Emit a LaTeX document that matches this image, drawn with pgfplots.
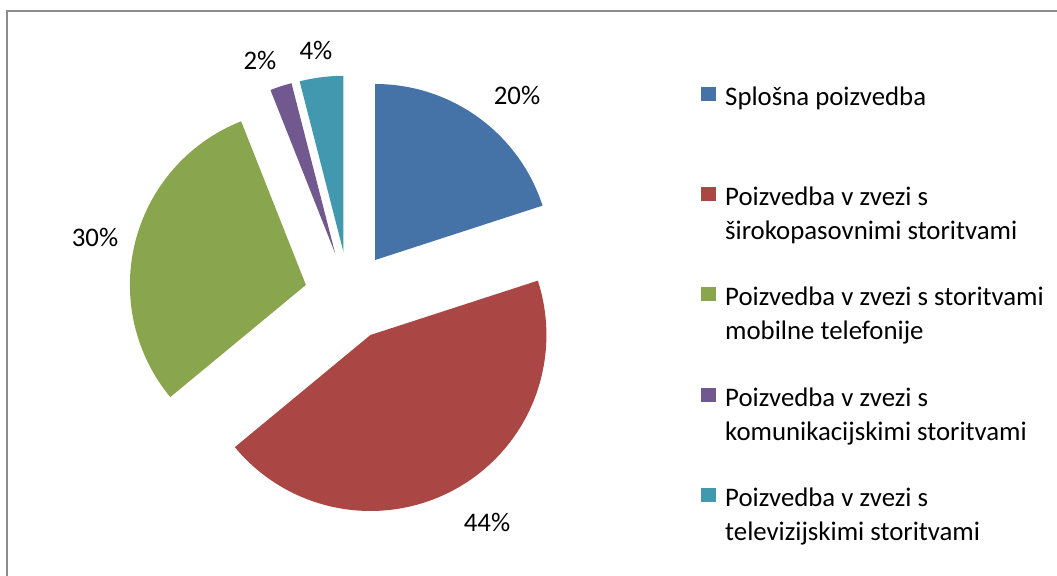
\documentclass[border=0pt]{standalone}
\usepackage{pgfplots}
\pgfplotsset{compat=1.18}
\usepackage{fontspec}
\setmainfont{Carlito}
\definecolor{cA}{HTML}{4572A7}
\definecolor{cB}{HTML}{AA4643}
\definecolor{cC}{HTML}{89A54E}
\definecolor{cD}{HTML}{71588F}
\definecolor{cE}{HTML}{4198AF}
% pie geometry (axis units = px): centre, explosion, radius
\def\cx{349}\def\cy{280}\def\ex{44.5}\def\rad{176}
\newcommand{\slice}[3]{% #1 start angle, #2 percent, #3 colour
  \pgfmathsetmacro\se{#1-3.6*#2}%
  \pgfmathsetmacro\sm{#1-1.8*#2}%
  \pgfmathsetmacro\ax{\cx+\ex*cos(\sm)}%
  \pgfmathsetmacro\ay{\cy+\ex*sin(\sm)}%
  \edef\tmp{\noexpand\addplot[fill=#3, draw=none, domain=\se:#1, samples=90, variable=\noexpand\t]
    ({\ax+\rad*cos(\noexpand\t)},{\ay+\rad*sin(\noexpand\t)}) -- (axis cs:\ax,\ay) -- cycle;}%
  \tmp
}
\begin{document}
\begin{tikzpicture}
\useasboundingbox (0,0) rectangle (1057bp,576bp);
\begin{axis}[
  scale only axis, width=1057bp, height=576bp,
  xmin=0, xmax=1057, ymin=0, ymax=576,
  hide axis, clip=false,
  legend image code/.code={\fill[#1] (0bp,13bp) rectangle (15bp,27bp); \path (22bp,20bp);},
  legend style={at={(axis cs:701,491)}, anchor=north west, draw=none, fill=none,
    font=\fontsize{26.8bp}{34bp}\selectfont, row sep=42bp,
    cells={anchor=west, align=left}, inner sep=0pt},
]
\slice{90}{20}{cA}
\slice{18}{44}{cB}
\slice{-140.4}{30}{cC}
\slice{-248.4}{2}{cD}
\slice{-255.6}{4}{cE}
\legend{{Splošna poizvedba\\\strut},
  {Poizvedba v zvezi s\\širokopasovnimi storitvami},
  {Poizvedba v zvezi s storitvami\\mobilne telefonije},
  {Poizvedba v zvezi s\\komunikacijskimi storitvami},
  {Poizvedba v zvezi s\\televizijskimi storitvami}}
\begin{scope}[every node/.style={font=\fontsize{26.8bp}{34bp}\selectfont}]
\node at (axis cs:517,481) {20\%};
\node at (axis cs:487,54) {44\%};
\node at (axis cs:95,339) {30\%};
\node at (axis cs:260,516) {2\%};
\node at (axis cs:316,526) {4\%};
\end{scope}
\draw[color=black!45, line width=1.3bp] (axis cs:7,-30) |- (axis cs:1090,565);
\end{axis}
\end{tikzpicture}
\end{document}
